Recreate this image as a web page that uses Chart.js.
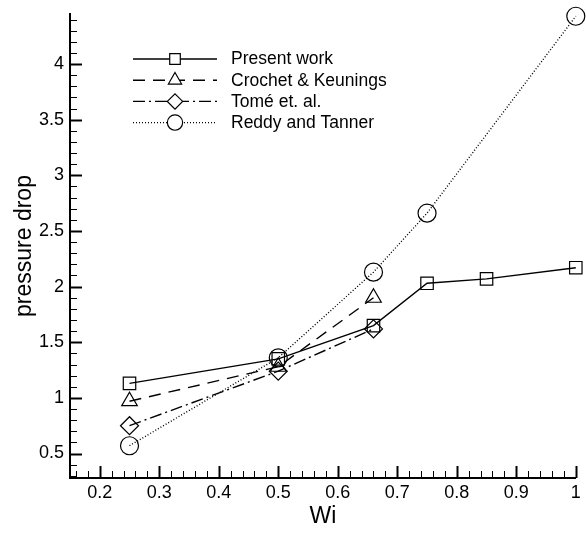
<!DOCTYPE html>
<html>
<head>
<meta charset="utf-8">
<script src="https://cdn.jsdelivr.net/npm/chart.js@4/dist/chart.umd.min.js"></script>
<style>
  html, body { margin: 0; padding: 0; background: #fff; }
  #wrap { width: 586px; height: 533px; }
</style>
</head>
<body>
<div id="wrap"><canvas id="dropChart" width="586" height="533"></canvas></div>
<script>
const seriesNames = ['Present work', 'Crochet & Keunings', 'Tomé et. al.', 'Reddy and Tanner'];

const presentWi = [0.25, 0.5, 0.66, 0.75, 0.85, 1.0];
const presentDrop = [1.13, 1.35, 1.65, 2.03, 2.07, 2.17];

const crochetWi = [0.25, 0.5, 0.66];
const crochetDrop = [0.97, 1.28, 1.9];

const tomeWi = [0.25, 0.5, 0.66];
const tomeDrop = [0.75, 1.24, 1.62];

const reddyWi = [0.25, 0.5, 0.66, 0.75, 1.0];
const reddyDrop = [0.57, 1.36, 2.13, 2.66, 4.43];

const xTickValues = [0.2, 0.3, 0.4, 0.5, 0.6, 0.7, 0.8, 0.9, 1];
const yTickValues = [0.5, 1, 1.5, 2, 2.5, 3, 3.5, 4];

const toPoints = (xs, ys) => xs.map((x, i) => ({ x: x, y: ys[i] }));

const fontFamily = '"Liberation Sans", Arial, Helvetica, sans-serif';

const lineSet = (label, xs, ys, style, dash, radius) => ({
  label: label,
  data: toPoints(xs, ys),
  borderColor: '#000',
  borderWidth: 1.4,
  borderDash: dash,
  pointStyle: style,
  pointRadius: radius,
  pointHoverRadius: radius,
  pointBorderColor: '#000',
  pointBorderWidth: 1.2,
  pointBackgroundColor: 'rgba(0,0,0,0)',
  tension: 0,
  clip: false
});

// inward tick marks, major and minor
const axisTicks = {
  id: 'axisTicks',
  afterDraw(chart) {
    const { ctx, chartArea, scales } = chart;
    ctx.save();
    ctx.strokeStyle = '#000';
    const mark = (len, width, fn) => { ctx.lineWidth = width; ctx.beginPath(); fn(len); ctx.stroke(); };

    for (let k = 8; k <= 50; k++) {
      const v = k / 50;
      const px = Math.round(scales.x.getPixelForValue(v)) + 0.5;
      const major = k % 5 === 0;
      mark(major ? 12 : 7, major ? 2 : 1, (len) => {
        ctx.moveTo(px, chartArea.bottom);
        ctx.lineTo(px, chartArea.bottom - len);
      });
    }
    for (let k = 3; k <= 44; k++) {
      const v = k / 10;
      const py = Math.round(scales.y.getPixelForValue(v)) + 0.5;
      const major = k % 5 === 0;
      mark(major ? 12 : 7, major ? 2 : 1, (len) => {
        ctx.moveTo(chartArea.left, py);
        ctx.lineTo(chartArea.left + len, py);
      });
    }
    ctx.restore();
  }
};

// legend with a line segment and marker for each series
const lineLegend = {
  id: 'lineLegend',
  afterDraw(chart) {
    const { ctx } = chart;
    ctx.save();
    chart.data.datasets.forEach((ds, i) => {
      const y = 58.5 + i * 21.2;
      ctx.strokeStyle = '#000';
      ctx.lineWidth = ds.borderWidth;
      ctx.setLineDash(ds.borderDash || []);
      ctx.beginPath();
      ctx.moveTo(133, y + 0.5);
      ctx.lineTo(217, y + 0.5);
      ctx.stroke();
      ctx.setLineDash([]);
      ctx.fillStyle = '#fff';
      ctx.lineWidth = ds.pointBorderWidth;
      Chart.helpers.drawPoint(ctx, {
        pointStyle: ds.pointStyle,
        rotation: 0,
        radius: ds.pointRadius * 0.85,
        borderWidth: ds.pointBorderWidth
      }, 175, y + 0.5);
      ctx.fillStyle = '#000';
      ctx.font = '17.5px ' + fontFamily;
      ctx.textBaseline = 'middle';
      ctx.textAlign = 'left';
      ctx.fillText(ds.label, 231, y + 1);
    });
    ctx.restore();
  }
};

new Chart(document.getElementById('dropChart').getContext('2d'), {
  type: 'line',
  data: {
    datasets: [
      lineSet(seriesNames[0], presentWi, presentDrop, 'rect', [], 8.8),
      lineSet(seriesNames[1], crochetWi, crochetDrop, 'triangle', [12, 8], 9),
      lineSet(seriesNames[2], tomeWi, tomeDrop, 'rectRot', [12, 4, 2, 4], 9),
      lineSet(seriesNames[3], reddyWi, reddyDrop, 'circle', [1, 2], 9)
    ]
  },
  options: {
    responsive: false,
    animation: false,
    layout: { padding: { top: 14, right: 7, left: 0, bottom: 0 } },
    plugins: {
      legend: { display: false },
      tooltip: { enabled: false }
    },
    scales: {
      x: {
        type: 'linear',
        min: 0.15,
        max: 1.0,
        afterBuildTicks: (s) => { s.ticks = xTickValues.map((v) => ({ value: v })); },
        afterFit: (s) => { s.height = 55; s.paddingLeft = 0; s.paddingRight = 0; },
        grid: { display: false, drawTicks: false },
        border: { display: true, color: '#000', width: 2 },
        ticks: {
          color: '#000',
          padding: 4,
          maxRotation: 0,
          autoSkip: false,
          font: { family: fontFamily, size: 18 },
          callback: (v) => String(+Number(v).toFixed(2))
        },
        title: {
          display: true,
          text: 'Wi',
          color: '#000',
          font: { family: fontFamily, size: 23 },
          padding: { top: 0, bottom: 3 }
        }
      },
      y: {
        type: 'linear',
        min: 0.28,
        max: 4.45,
        afterBuildTicks: (s) => { s.ticks = yTickValues.map((v) => ({ value: v })); },
        afterFit: (s) => { s.width = 70; s.paddingTop = 0; s.paddingBottom = 0; },
        grid: { display: false, drawTicks: false },
        border: { display: true, color: '#000', width: 2 },
        ticks: {
          color: '#000',
          padding: 6,
          font: { family: fontFamily, size: 18 },
          callback: (v) => String(+Number(v).toFixed(2))
        },
        title: {
          display: true,
          text: 'pressure drop',
          color: '#000',
          font: { family: fontFamily, size: 23 },
          padding: { top: 11, bottom: 0 }
        }
      }
    }
  },
  plugins: [axisTicks, lineLegend]
});
</script>
</body>
</html>
